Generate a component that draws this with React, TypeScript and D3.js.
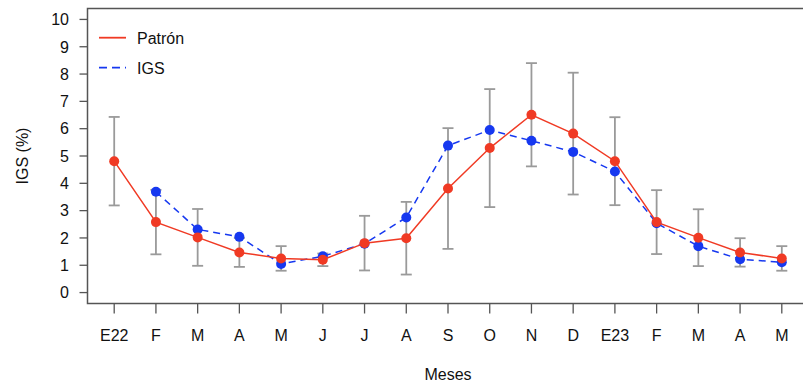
import React from "react";
import * as d3 from "d3";

const months = ["E22", "F", "M", "A", "M", "J", "J", "A", "S", "O", "N", "D", "E23", "F", "M", "A", "M"];
const patron = [4.81, 2.58, 2.02, 1.47, 1.25, 1.2, 1.81, 1.99, 3.81, 5.29, 6.51, 5.82, 4.81, 2.58, 2.01, 1.47, 1.25];
const igs: (number | null)[] = [null, 3.69, 2.31, 2.04, 1.05, 1.33, 1.79, 2.75, 5.38, 5.95, 5.56, 5.15, 4.43, 2.54, 1.7, 1.22, 1.11];
const sd = [1.62, 1.18, 1.04, 0.53, 0.45, 0.23, 1.0, 1.33, 2.21, 2.16, 1.89, 2.23, 1.61, 1.17, 1.04, 0.52, 0.45];
const yTicks = [0, 1, 2, 3, 4, 5, 6, 7, 8, 9, 10];

const W = 803;
const H = 386;
const RED = "#f03a24";
const BLUE = "#1638f0";
const AXIS = "#555555";
const FONT = "'Liberation Sans', Arial, Helvetica, sans-serif";

export default function App() {
  const left = 87.5;
  const right = 808.5;
  const top = 8.5;
  const bottom = 303.5;
  const n = months.length;
  const x = d3.scaleLinear().domain([1 - 0.04 * (n - 1), n + 0.04 * (n - 1)]).range([left, right]);
  const y = d3.scaleLinear().domain([-0.4, 10.4]).range([bottom, top]);

  const redLine = d3
    .line<number>()
    .x((_, i) => x(i + 1))
    .y((d) => y(d))(patron) as string;

  const blueData = igs.map((v, i) => ({ v, i })).filter((d) => d.v !== null) as { v: number; i: number }[];
  const blueLine = d3
    .line<{ v: number; i: number }>()
    .x((d) => x(d.i + 1))
    .y((d) => y(d.v))(blueData) as string;

  return (
    <div style={{ position: "absolute", left: 0, top: 0 }}>
      <svg width={W} height={H} style={{ display: "block", background: "#fff" }} fontFamily={FONT}>
        {/* error bars */}
        <g stroke="#9a9a9a" strokeWidth={1.8} fill="none">
          {patron.map((m, i) => {
            const cx = x(i + 1);
            const y1 = y(m - sd[i]);
            const y2 = y(m + sd[i]);
            return (
              <g key={"eb" + i}>
                <line x1={cx} x2={cx} y1={y1} y2={y2} />
                <line x1={cx - 5.5} x2={cx + 5.5} y1={y1} y2={y1} />
                <line x1={cx - 5.5} x2={cx + 5.5} y1={y2} y2={y2} />
              </g>
            );
          })}
        </g>
        {/* IGS series */}
        <path d={blueLine} fill="none" stroke={BLUE} strokeWidth={1.5} strokeDasharray="7,5" />
        {blueData.map((d) => (
          <circle key={"b" + d.i} cx={x(d.i + 1)} cy={y(d.v)} r={5} fill={BLUE} />
        ))}
        {/* Patrón series */}
        <path d={redLine} fill="none" stroke={RED} strokeWidth={1.5} />
        {patron.map((v, i) => (
          <circle key={"r" + i} cx={x(i + 1)} cy={y(v)} r={5} fill={RED} />
        ))}

        {/* box */}
        <rect x={left} y={top} width={right - left} height={bottom - top} fill="none" stroke={AXIS} strokeWidth={1.5} />

        {/* y axis */}
        <g stroke={AXIS} strokeWidth={1.3}>
          {yTicks.map((t) => (
            <line key={"yt" + t} x1={left - 8} x2={left} y1={y(t)} y2={y(t)} />
          ))}
        </g>
        {yTicks.map((t) => (
          <text key={"yl" + t} x={69} y={y(t)} dy="0.36em" textAnchor="end" fontSize={16} fill="#111">
            {t}
          </text>
        ))}

        {/* x axis */}
        <g stroke={AXIS} strokeWidth={1.3}>
          {months.map((m, i) => (
            <line key={"xt" + i} x1={x(i + 1)} x2={x(i + 1)} y1={bottom} y2={bottom + 10} />
          ))}
        </g>
        {months.map((m, i) => (
          <text key={"xl" + i} x={x(i + 1)} y={341} textAnchor="middle" fontSize={16} fill="#111">
            {m}
          </text>
        ))}

        {/* axis titles */}
        <text x={(left + right) / 2} y={380} textAnchor="middle" fontSize={16} fill="#111">
          Meses
        </text>
        <text
          transform={`translate(28, ${(top + bottom) / 2}) rotate(-90)`}
          textAnchor="middle"
          fontSize={16}
          fill="#111"
        >
          IGS (%)
        </text>

        {/* legend */}
        <line x1={99} x2={126} y1={37.7} y2={37.7} stroke={RED} strokeWidth={1.8} />
        <text x={137} y={44} fontSize={16} fill="#111">
          Patrón
        </text>
        <line x1={99} x2={126} y1={67.7} y2={67.7} stroke={BLUE} strokeWidth={1.8} strokeDasharray="8,5" />
        <text x={137} y={74} fontSize={16} fill="#111">
          IGS
        </text>
      </svg>
    </div>
  );
}
